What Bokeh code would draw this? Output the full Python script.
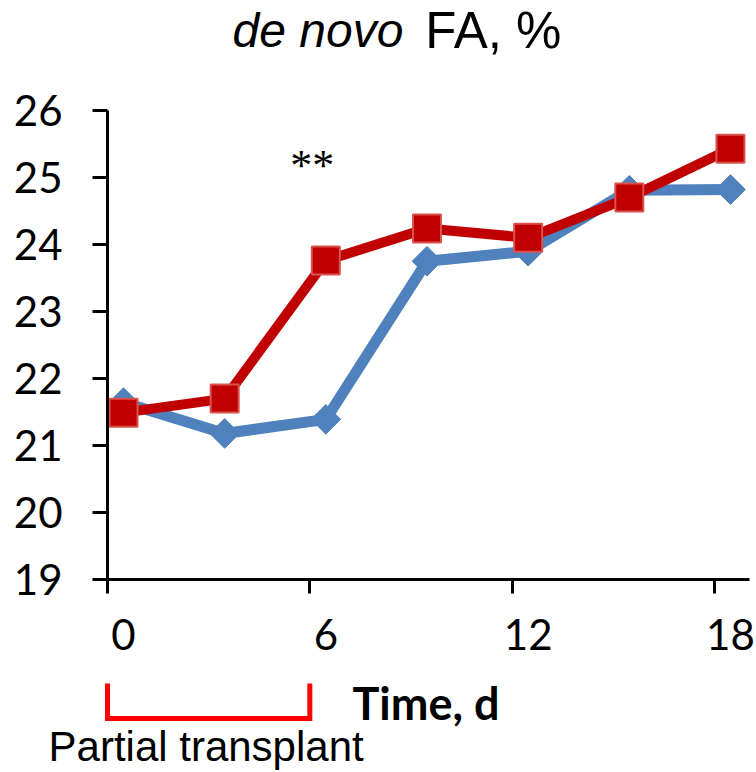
import math
from bokeh.plotting import figure
from bokeh.models import LinearAxis, FixedTicker, Range1d, Label
from bokeh.embed import file_html
from bokeh.resources import INLINE

# Sampling days and the two de novo FA series (%)
days = [0, 3, 6, 9, 12, 15, 18]
blue_vals = [21.64, 21.18, 21.39, 23.75, 23.90, 24.81, 24.82]
red_vals = [21.49, 21.70, 23.76, 24.24, 24.10, 24.70, 25.43]

x_tick_labels = [0, 6, 12, 18]
y_ticks = [19, 20, 21, 22, 23, 24, 25, 26]
transplant_days = (0, 6)

BLUE = "#4F81BD"
RED = "#C00000"

# tick marks sit a little left of the labelled day, like a category axis
tick_shift = 0.4745

p = figure(width=756, height=772,
           x_range=Range1d(-3.648, 18.772), y_range=Range1d(16.119, 27.642),
           output_backend="svg", toolbar_location=None,
           x_axis_location=None, y_axis_location=None,
           min_border=0, outline_line_color=None)
for g in p.grid:
    g.grid_line_color = None
p.background_fill_color = "white"
p.border_fill_color = "white"

# vertical axis
yax = LinearAxis(fixed_location=-tick_shift, bounds=(y_ticks[0], y_ticks[-1]),
                 ticker=FixedTicker(ticks=y_ticks),
                 axis_line_width=3, axis_line_color="black",
                 major_tick_out=15, major_tick_in=0, major_tick_line_width=3,
                 minor_tick_line_color=None,
                 major_label_text_font="Lato", major_label_text_font_size="42px",
                 major_label_text_color="black", major_label_standoff=30)
p.add_layout(yax, "left")

# horizontal axis line with its tick marks
xax = LinearAxis(fixed_location=y_ticks[0], bounds=(-tick_shift, 18.56),
                 ticker=FixedTicker(ticks=[t - tick_shift for t in x_tick_labels]),
                 axis_line_width=3, axis_line_color="black",
                 major_tick_out=14, major_tick_in=0, major_tick_line_width=3,
                 minor_tick_line_color=None,
                 major_label_text_color=None, major_label_text_font_size="1px")
p.add_layout(xax, "below")

# horizontal axis labels, centred on the sampling days
xlab = LinearAxis(fixed_location=y_ticks[0],
                  ticker=FixedTicker(ticks=x_tick_labels),
                  axis_line_color=None, major_tick_line_color=None,
                  major_tick_out=0, major_tick_in=0, minor_tick_line_color=None,
                  major_label_text_font="Lato", major_label_text_font_size="42px",
                  major_label_text_color="black", major_label_standoff=40)
p.add_layout(xlab, "below")

# series
p.line(days, blue_vals, line_color=BLUE, line_width=11)
p.scatter(days, blue_vals, marker="square", angle=math.pi / 4, size=21,
          fill_color=BLUE, line_color=BLUE)
p.line(days, red_vals, line_color=RED, line_width=10)
p.scatter(days, red_vals, marker="square", size=28,
          fill_color=RED, line_color="#D9534F", line_width=2)

# title
p.add_layout(Label(x=8.30, y=27.20, text="de novo", text_align="right",
                   text_baseline="alphabetic", text_font="Liberation Sans",
                   text_font_style="italic", text_font_size="48px", text_color="black"))
p.add_layout(Label(x=8.95, y=27.20, text="FA, %", text_align="left",
                   text_baseline="alphabetic", text_font="Liberation Sans",
                   text_font_size="51px", text_color="black"))

# significance mark
p.add_layout(Label(x=5.60, y=25.18, text="**", text_align="center",
                   text_baseline="middle", text_font="Liberation Serif",
                   text_font_size="44px", text_color="black"))

# axis title
p.add_layout(Label(x=6.79, y=17.15, text="Time, d", text_align="left",
                   text_baseline="alphabetic", text_font="Lato",
                   text_font_style="bold", text_font_size="45px", text_color="black"))

# transplant period bracket
bx0 = transplant_days[0] - tick_shift
bx1 = transplant_days[1] - tick_shift
b_top, b_bot = 17.448, 16.925
p.line([bx0, bx0, bx1, bx1], [b_top, b_bot, b_bot, b_top],
       line_color="#FF0000", line_width=5, line_join="miter")
p.add_layout(Label(x=-2.224, y=16.51, text="Partial transplant", text_align="left",
                   text_baseline="alphabetic", text_font="Liberation Sans",
                   text_font_size="42px", text_color="black"))

open("out.html", "w").write(file_html(p, INLINE))
